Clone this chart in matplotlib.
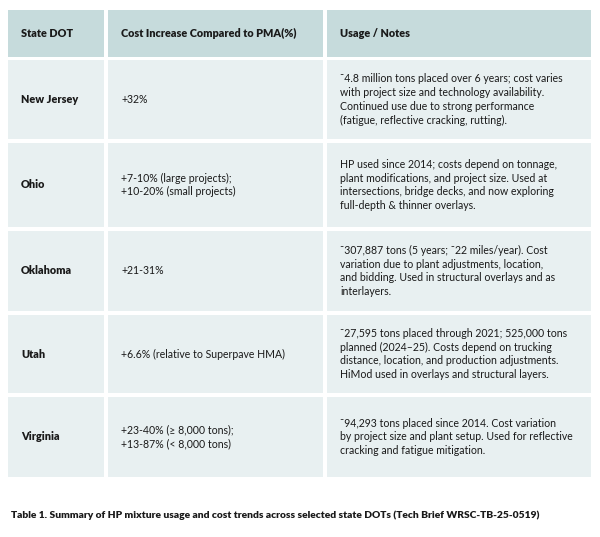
import matplotlib
matplotlib.use("Agg")
import matplotlib.pyplot as plt
from matplotlib.patches import Rectangle

headers = ["State DOT", "Cost Increase Compared to PMA(%)", "Usage / Notes"]
states = ["New Jersey", "Ohio", "Oklahoma", "Utah", "Virginia"]
costs = ["+32%",
         "+7-10% (large projects);\n+10-20% (small projects)",
         "+21-31%",
         "+6.6% (relative to Superpave HMA)",
         "+23-40% (\u2265 8,000 tons);\n+13-87% (< 8,000 tons)"]
notes = ["\u02dc4.8 million tons placed over 6 years; cost varies\nwith project size and technology availability.\nContinued use due to strong performance\n(fatigue, reflective cracking, rutting).",
         "HP used since 2014; costs depend on tonnage,\nplant modifications, and project size. Used at\nintersections, bridge decks, and now exploring\nfull-depth & thinner overlays.",
         "\u02dc307,887 tons (5 years; \u02dc22 miles/year). Cost\nvariation due to plant adjustments, location,\nand bidding. Used in structural overlays and as\ninterlayers.",
         "\u02dc27,595 tons placed through 2021; 525,000 tons\nplanned (2024\u201325). Costs depend on trucking\ndistance, location, and production adjustments.\nHiMod used in overlays and structural layers.",
         "\u02dc94,293 tons placed since 2014. Cost variation\nby project size and plant setup. Used for reflective\ncracking and fatigue mitigation."]
caption = "Table 1. Summary of HP mixture usage and cost trends across selected state DOTs (Tech Brief WRSC-TB-25-0519)"

plt.rcParams['font.family'] = ['Lato', 'DejaVu Sans']
fig = plt.figure(figsize=(6, 5.37), dpi=100)
ax = fig.add_axes([0, 0, 1, 1])
ax.set_xlim(0, 600); ax.set_ylim(537, 0); ax.axis('off')

cols = [(8, 104), (108, 323), (327, 591)]
rows = [(60, 139), (143, 227), (231, 311), (315, 393), (397, 477)]
hdr = (10, 57)
hc, bc, tc = "#c6dbdc", "#e8f0f1", "#1a1a1a"

for j, (x0, x1) in enumerate(cols):
    ax.add_patch(Rectangle((x0, hdr[0]), x1 - x0, hdr[1] - hdr[0], color=hc, lw=0))
    ax.text(x0 + 13, (hdr[0] + hdr[1]) / 2, headers[j], fontsize=7.8, weight='heavy', color=tc, va='center')
for i, (y0, y1) in enumerate(rows):
    for j, (x0, x1) in enumerate(cols):
        ax.add_patch(Rectangle((x0, y0), x1 - x0, y1 - y0, color=bc, lw=0))
    yc = (y0 + y1) / 2
    ax.text(cols[0][0] + 13, yc, states[i], fontsize=7.8, weight='heavy', color=tc, va='center')
    ax.text(cols[1][0] + 13, yc, costs[i], fontsize=7.6, color=tc, va='center', linespacing=1.3)
    ax.text(cols[2][0] + 13, yc, notes[i], fontsize=7.6, color=tc, va='center', linespacing=1.3)

ax.text(11, 515, caption, fontsize=7.4, weight='heavy', color=tc, va='center')
fig.savefig("out.png", dpi=100, facecolor='white')
